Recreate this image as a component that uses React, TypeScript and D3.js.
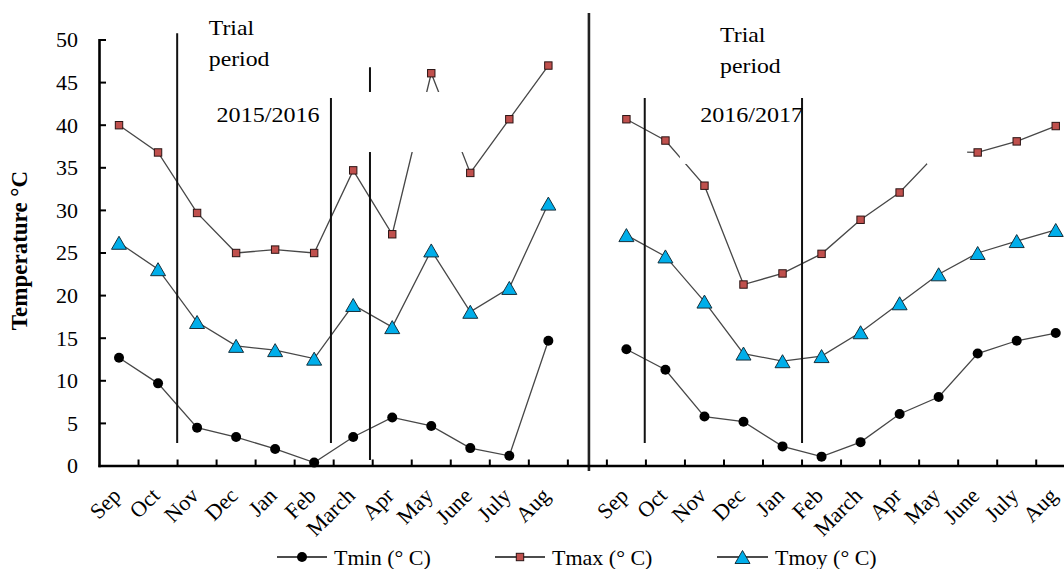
import React from "react";
import * as d3 from "d3";

const months = ["Sep", "Oct", "Nov", "Dec", "Jan", "Feb", "March", "Apr", "May", "June", "July", "Aug"];
// 25 slots: 12 months of 2015/2016, one empty separator slot, 12 months of 2016/2017
const xLabels = [...months, "", ...months];

const tmin1516 = [12.7, 9.7, 4.5, 3.4, 2.0, 0.4, 3.4, 5.7, 4.7, 2.1, 1.2, 14.7];
const tmax1516 = [40.0, 36.8, 29.7, 25.0, 25.4, 25.0, 34.7, 27.2, 46.1, 34.4, 40.7, 47.0];
const tmoy1516 = [26.2, 23.1, 16.9, 14.1, 13.6, 12.6, 18.9, 16.3, 25.3, 18.1, 20.9, 30.8];

const tmin1617 = [13.7, 11.3, 5.8, 5.2, 2.3, 1.1, 2.8, 6.1, 8.1, 13.2, 14.7, 15.6];
const tmax1617 = [40.7, 38.2, 32.9, 21.3, 22.6, 24.9, 28.9, 32.1, 36.9, 36.8, 38.1, 39.9];
const tmoy1617 = [27.1, 24.6, 19.3, 13.2, 12.3, 12.9, 15.7, 19.1, 22.5, 25.0, 26.4, 27.7];

const yTicks = [0, 5, 10, 15, 20, 25, 30, 35, 40, 45, 50];

const seriesNames = ["Tmin (° C)", "Tmax (° C)", "Tmoy (° C)"];

// trial-period marker lines: position in slot units, value extent
const markerLines = [
  { at: 1.99, top: 50.8, bottom: 2.7 },
  { at: 5.93, top: 43.2, bottom: 2.7 },
  { at: 6.93, top: 46.8, bottom: 0.7 },
  { at: 13.97, top: 43.2, bottom: 2.7 },
  { at: 18.0, top: 43.2, bottom: 2.7 },
];
const dividerAt = 12.54;

// white text-box areas of the original figure hiding parts of the lines
const masks = [
  { x0: 6.16, x1: 9.44, v0: 36.85, v1: 43.9 },
  { x0: 21.2, x1: 22.23, v0: 35.45, v1: 41.8 },
  { x0: 14.87, x1: 15.08, v0: 35.45, v1: 37.1 },
];

const annotations = [
  { lines: ["Trial", "period"], at: 2.8, v: 50.6 },
  { lines: ["Trial", "period"], at: 15.9, v: 49.8 },
];
const periodLabels = [
  { text: "2015/2016", at: 3.0, v: 40.4 },
  { text: "2016/2017", at: 15.39, v: 40.4 },
];

const W = 1064;
const H = 569;
const FONT = '"Liberation Serif", "Times New Roman", "DejaVu Serif", serif';

export default function App() {
  const left = 99.5;
  const bw = 39.03;
  const x = d3.scaleBand<number>().domain(d3.range(25)).range([left, left + 25 * bw]).padding(0);
  const pos = d3.scaleLinear().domain([0, 25]).range([left, left + 25 * bw]);
  const y = d3.scaleLinear().domain([0, 50]).range([466, 40]);
  const cx = (i: number) => (x(i) as number) + x.bandwidth() / 2;

  const mk = (vals: number[], offset: number) => vals.map((v, i) => ({ i: i + offset, v }));
  const series = [
    { name: seriesNames[0], parts: [mk(tmin1516, 0), mk(tmin1617, 13)], kind: "circle" },
    { name: seriesNames[1], parts: [mk(tmax1516, 0), mk(tmax1617, 13)], kind: "square" },
    { name: seriesNames[2], parts: [mk(tmoy1516, 0), mk(tmoy1617, 13)], kind: "triangle" },
  ];

  const line = d3
    .line<{ i: number; v: number }>()
    .x((d) => cx(d.i))
    .y((d) => y(d.v));

  const marker = (kind: string, px: number, py: number, key: string) => {
    if (kind === "circle") return <circle key={key} cx={px} cy={py} r={5} fill="#000" />;
    if (kind === "square")
      return (
        <rect key={key} x={px - 3.7} y={py - 3.7} width={7.4} height={7.4} fill="#c0504d" stroke="#2b1414" strokeWidth={1} />
      );
    const w = 15, h = 13;
    return (
      <path
        key={key}
        d={`M${px},${py - h / 2}L${px + w / 2},${py + h / 2}L${px - w / 2},${py + h / 2}Z`}
        fill="#00aeea"
        stroke="#16303c"
        strokeWidth={1}
      />
    );
  };

  const axisY0 = y(0);
  const legendItems = [
    { x1: 277, x2: 327, tx: 334 },
    { x1: 495, x2: 545, tx: 552 },
    { x1: 717, x2: 768, tx: 775 },
  ];
  const legendY = 557;

  return (
    <svg
      width={W}
      height={H}
      style={{ position: "absolute", left: 0, top: 0, background: "#fff", fontFamily: FONT }}
    >
      <rect x={0} y={0} width={W} height={H} fill="#fff" />

      {/* series lines */}
      {series.map((s) =>
        s.parts.map((p, k) => (
          <path key={s.name + k} d={line(p) || ""} fill="none" stroke="#474747" strokeWidth={1.3} />
        ))
      )}

      {/* markers */}
      {series.map((s) => s.parts.flat().map((d) => marker(s.kind, cx(d.i), y(d.v), s.name + d.i)))}

      {/* trial-period lines */}
      {markerLines.map((m, k) => (
        <line key={k} x1={pos(m.at)} x2={pos(m.at)} y1={y(m.top)} y2={y(m.bottom)} stroke="#111" strokeWidth={2} />
      ))}
      <line x1={pos(dividerAt)} x2={pos(dividerAt)} y1={13} y2={471} stroke="#222" strokeWidth={2.6} />

      {/* masks */}
      {masks.map((m, k) => (
        <rect key={k} x={pos(m.x0)} y={y(m.v1)} width={pos(m.x1) - pos(m.x0)} height={y(m.v0) - y(m.v1)} fill="#fff" />
      ))}

      {/* y axis */}
      <line x1={left} x2={left} y1={y(50) - 1} y2={axisY0 + 1.2} stroke="#000" strokeWidth={2.6} />
      {yTicks.map((t) => (
        <g key={t}>
          <line x1={left} x2={left + 6.5} y1={y(t)} y2={y(t)} stroke="#000" strokeWidth={2} />
          <text x={78} y={y(t)} dy="0.34em" textAnchor="end" fontSize={22} fill="#000">
            {t}
          </text>
        </g>
      ))}

      {/* x axis */}
      <line x1={left - 1} x2={W} y1={axisY0} y2={axisY0} stroke="#000" strokeWidth={2.6} />
      {d3.range(1, 26).map((b) => (
        <line key={b} x1={pos(b)} x2={pos(b)} y1={axisY0} y2={axisY0 - 6.5} stroke="#000" strokeWidth={2} />
      ))}
      {xLabels.map((lab, i) =>
        lab ? (
          <text
            key={i}
            transform={`translate(${cx(i) + 3},${497}) rotate(-45)`}
            textAnchor="end"
            fontSize={22}
            fill="#000"
          >
            {lab}
          </text>
        ) : null
      )}

      {/* y title */}
      <text
        transform={`translate(27,${250.5}) rotate(-90)`}
        textAnchor="middle"
        fontSize={23}
        fontWeight="bold"
        fill="#000"
      >
        Temperature °C
      </text>

      {/* annotations */}
      {annotations.map((a, k) => (
        <g key={k} transform={`translate(${pos(a.at)},${y(a.v)}) scale(1.08,1)`}>
          <text x={0} y={0} fontSize={22} fill="#000">
            {a.lines.map((l, j) => (
              <tspan key={j} x={0} dy={j === 0 ? 0 : 31}>
                {l}
              </tspan>
            ))}
          </text>
        </g>
      ))}
      {periodLabels.map((p, k) => (
        <text
          key={k}
          x={pos(p.at)}
          y={y(p.v)}
          fontSize={22}
          fill="#000"
          textLength={103}
          lengthAdjust="spacingAndGlyphs"
        >
          {p.text}
        </text>
      ))}

      {/* legend */}
      {series.map((s, k) => {
        const it = legendItems[k];
        return (
          <g key={s.name}>
            <line x1={it.x1} x2={it.x2} y1={legendY} y2={legendY} stroke="#111" strokeWidth={1.3} />
            {marker(s.kind, (it.x1 + it.x2) / 2, legendY, "lg" + k)}
            <text x={it.tx} y={legendY + 8} fontSize={22} fill="#000">
              {s.name}
            </text>
          </g>
        );
      })}
    </svg>
  );
}
